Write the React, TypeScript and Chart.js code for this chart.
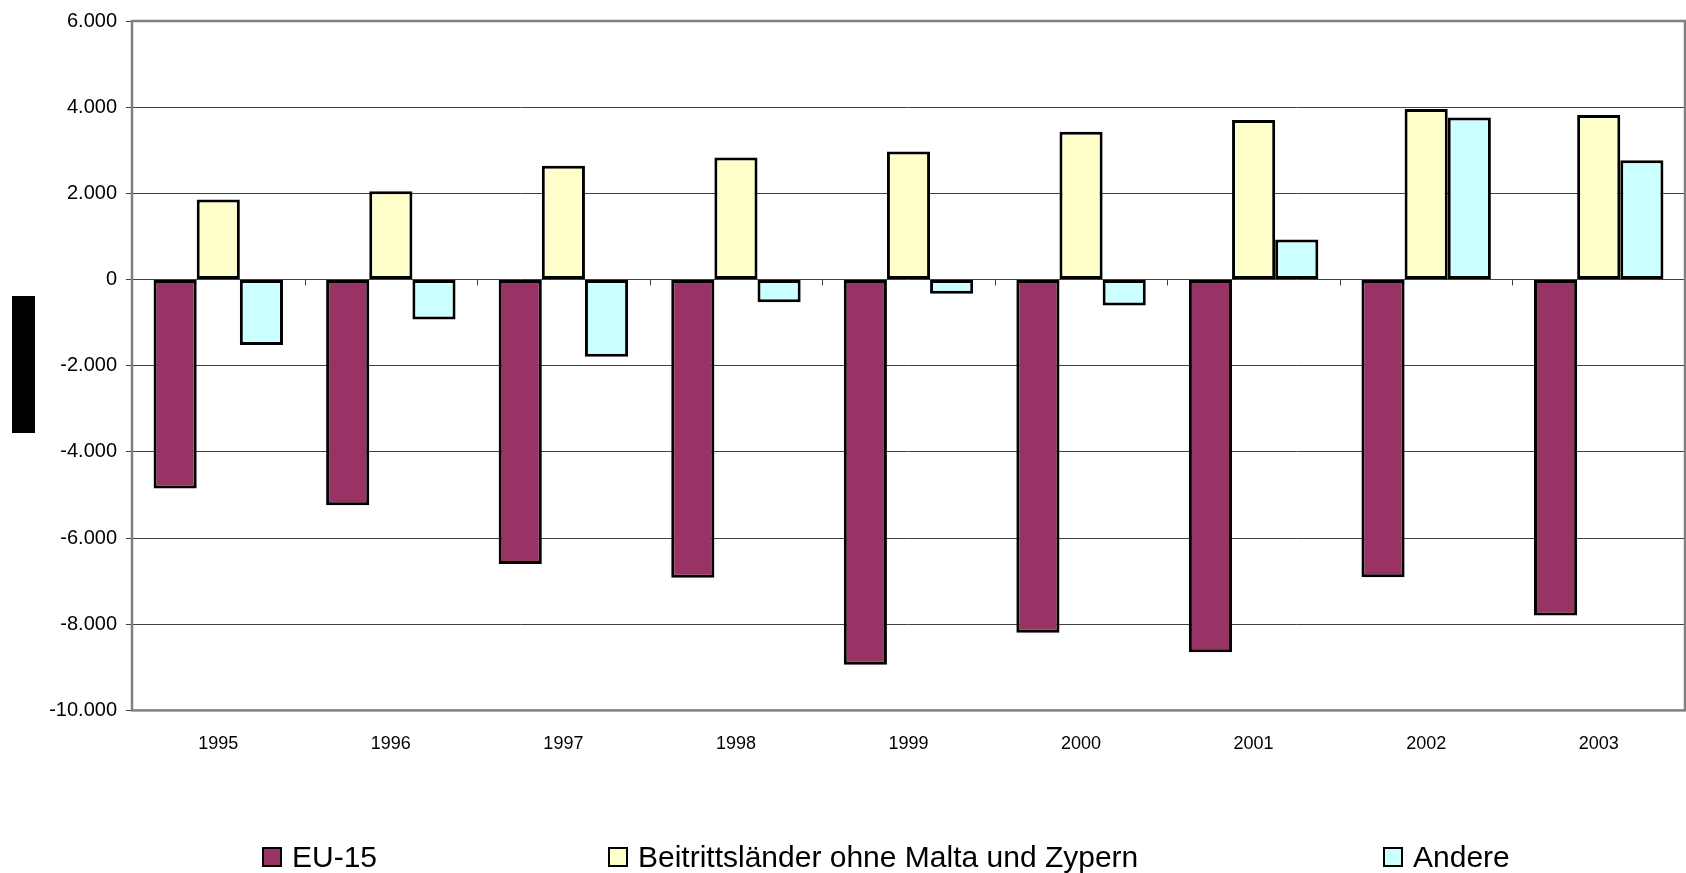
import React, { useEffect, useRef } from "react";
import { Chart, registerables } from "chart.js";

Chart.register(...registerables);

const categories = ["1995", "1996", "1997", "1998", "1999", "2000", "2001", "2002", "2003"];
const seriesNames = ["EU-15", "Beitrittsländer ohne Malta und Zypern", "Andere"];
const eu15 = [-4850, -5240, -6600, -6920, -8940, -8200, -8650, -6910, -7800];
const beitritt = [1860, 2050, 2640, 2830, 2970, 3430, 3700, 3960, 3820];
const andere = [-1520, -930, -1790, -530, -330, -600, 930, 3760, 2770];
const seriesColors = ["#993366", "#FFFFCC", "#CCFFFF"];

const yMin = -10000;
const yMax = 6000;
const yStep = 2000;

const FONT = "'Liberation Sans', Arial, sans-serif";

const framePlugin = {
  id: "frameAndZeroTicks",
  afterDatasetsDraw(chart: any) {
    const { ctx, chartArea, scales } = chart;
    const x = scales.x;
    const y = scales.y;
    ctx.save();
    const y0 = y.getPixelForValue(0);
    ctx.strokeStyle = "#404040";
    ctx.lineWidth = 1;
    const n = x.ticks.length;
    const w = (chartArea.right - chartArea.left) / n;
    for (let i = 1; i < n; i++) {
      const px = Math.round(x.getPixelForTick(i) - w / 2) + 0.5;
      ctx.beginPath();
      ctx.moveTo(px, y0);
      ctx.lineTo(px, y0 + 6);
      ctx.stroke();
    }
    ctx.strokeStyle = "#808080";
    ctx.lineWidth = 2.5;
    ctx.strokeRect(chartArea.left, chartArea.top, chartArea.right - chartArea.left, chartArea.bottom - chartArea.top);
    ctx.restore();
  },
};

export default function App() {
  const canvasRef = useRef<HTMLCanvasElement | null>(null);

  useEffect(() => {
    document.body.style.margin = "0";
    const canvas = canvasRef.current;
    if (!canvas) return;
    const data = [eu15, beitritt, andere];
    const chart = new Chart(canvas, {
      type: "bar",
      data: {
        labels: categories,
        datasets: seriesNames.map((name, i) => ({
          label: name,
          data: data[i],
          backgroundColor: seriesColors[i],
          borderColor: "#000000",
          borderWidth: 3,
          borderSkipped: false,
          categoryPercentage: 0.75,
          barPercentage: 1.0,
        })),
      },
      options: {
        responsive: false,
        animation: false,
        layout: { padding: { left: 0, right: 1, top: 19, bottom: 103 } },
        plugins: {
          legend: { display: false },
          tooltip: { enabled: false },
        },
        scales: {
          x: {
            grid: { display: false },
            border: { display: false },
            ticks: {
              color: "#000",
              font: { family: FONT, size: 18 },
              padding: 15,
              maxRotation: 0,
            },
          },
          y: {
            min: yMin,
            max: yMax,
            afterFit: (scale: any) => {
              scale.width = 132;
            },
            border: { display: false },
            grid: {
              color: "#404040",
              lineWidth: 1,
              tickLength: 6,
              tickColor: "#404040",
            },
            ticks: {
              stepSize: yStep,
              color: "#000",
              padding: 9,
              font: { family: FONT, size: 20 },
              callback: (v: any) => Number(v).toLocaleString("de-DE"),
            },
          },
        },
      },
      plugins: [framePlugin],
    });
    return () => chart.destroy();
  }, []);

  const legendLeft = [262, 608, 1383];

  return (
    <div style={{ position: "relative", width: 1686, height: 873, background: "#fff", overflow: "hidden" }}>
      <canvas ref={canvasRef} width={1686} height={873} style={{ display: "block" }} />
      <div style={{ position: "absolute", left: 12, top: 296, width: 23, height: 137, background: "#000" }} />
      {seriesNames.map((name, i) => (
        <div
          key={name}
          style={{
            position: "absolute",
            left: legendLeft[i],
            top: 840,
            height: 34,
            display: "flex",
            alignItems: "center",
            fontFamily: FONT,
            fontSize: 30,
            color: "#000",
            whiteSpace: "nowrap",
          }}
        >
          <span
            style={{
              display: "inline-block",
              width: 16,
              height: 16,
              border: "2px solid #000",
              background: seriesColors[i],
              marginRight: 10,
            }}
          />
          <span>{name}</span>
        </div>
      ))}
    </div>
  );
}
